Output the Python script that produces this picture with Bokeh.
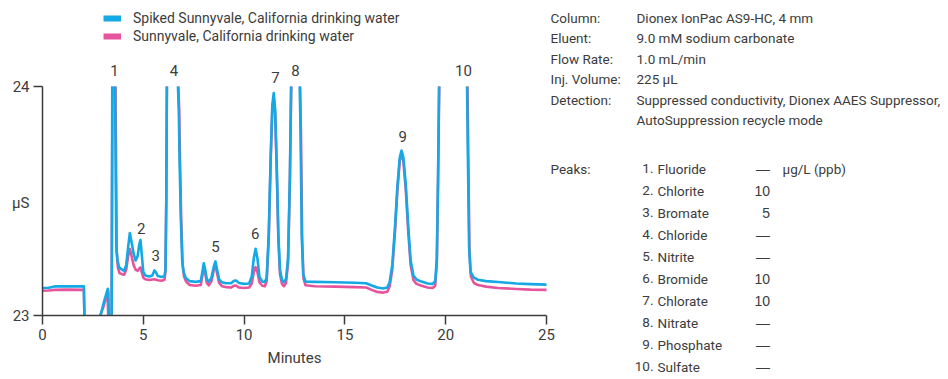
from bokeh.plotting import figure
from bokeh.models import Range1d, FixedTicker, Label, Legend, LegendItem
from bokeh.embed import file_html
from bokeh.resources import INLINE

OFF = float("nan")   # detector response outside the 23-24 µS display scale

# ---- chromatogram traces: retention time (min) and conductivity (µS) ----
spiked_t = [0.00, 0.30, 0.60, 1.20, 2.05, 2.08, 2.50, 2.88, 3.05, 3.24, 3.27, 3.29,
            3.36, 3.43, 3.46, 3.53, 3.60, 3.66, 3.72, 3.80, 3.95, 4.05, 4.15, 4.25,
            4.33, 4.42, 4.52, 4.62, 4.72, 4.80, 4.86, 4.92, 5.00, 5.10, 5.30, 5.45,
            5.55, 5.62, 5.72, 5.90, 6.05, 6.10, 6.14, 6.17, 6.45, 6.72, 6.76, 6.80,
            6.86, 6.93, 7.00, 7.10, 7.30, 7.60, 7.85, 7.93, 8.00, 8.07, 8.15, 8.25,
            8.38, 8.50, 8.58, 8.66, 8.76, 8.90, 9.10, 9.35, 9.50, 9.60, 9.75, 10.00,
            10.25, 10.38, 10.48, 10.57, 10.66, 10.76, 10.90, 11.03, 11.12, 11.22, 11.32, 11.40,
            11.47, 11.54, 11.62, 11.70, 11.78, 11.88, 11.97, 12.08, 12.18, 12.27, 12.33, 12.55,
            12.76, 12.80, 12.86, 12.93, 13.05, 13.50, 14.50, 15.50, 16.05, 16.30, 16.60, 16.90,
            17.10, 17.22, 17.35, 17.48, 17.60, 17.72, 17.81, 17.90, 18.02, 18.14, 18.26, 18.40,
            18.55, 18.80, 19.10, 19.35, 19.48, 19.56, 19.62, 19.67, 20.40, 21.06, 21.10, 21.16,
            21.23, 21.40, 21.60, 22.00, 22.60, 23.50, 24.20, 25.00]
spiked_us = [23.120, 23.121, 23.127, 23.128, 23.127, 23.000, OFF, 23.000, 23.060, 23.117, 23.100, 23.000,
             OFF, 23.000, 24.000, OFF, 24.000, 23.300, 23.240, 23.210, 23.200, 23.195, 23.220, 23.300,
             23.360, 23.320, 23.270, 23.240, 23.260, 23.310, 23.330, 23.270, 23.190, 23.175, 23.170, 23.175,
             23.197, 23.190, 23.172, 23.168, 23.172, 23.200, 23.500, 24.000, OFF, 24.000, 23.900, 23.680,
             23.430, 23.240, 23.190, 23.165, 23.150, 23.147, 23.150, 23.190, 23.228, 23.200, 23.158, 23.148,
             23.165, 23.215, 23.236, 23.200, 23.158, 23.145, 23.141, 23.141, 23.152, 23.153, 23.142, 23.138,
             23.140, 23.170, 23.250, 23.291, 23.250, 23.170, 23.148, 23.146, 23.165, 23.350, 23.700, 23.920,
             23.971, 23.900, 23.650, 23.350, 23.200, 23.155, 23.146, 23.160, 23.250, 23.600, 24.000, OFF,
             24.000, 23.800, 23.350, 23.180, 23.148, 23.147, 23.145, 23.143, 23.141, 23.132, 23.122, 23.118,
             23.122, 23.145, 23.220, 23.380, 23.560, 23.690, 23.720, 23.690, 23.570, 23.390, 23.240, 23.175,
             23.157, 23.148, 23.140, 23.138, 23.150, 23.250, 23.600, 24.000, OFF, 24.000, 23.700, 23.300,
             23.190, 23.165, 23.156, 23.150, 23.146, 23.140, 23.137, 23.135]

sample_t = [0.00, 0.30, 0.60, 1.20, 2.05, 2.08, 2.50, 2.86, 3.03, 3.19, 3.23, 3.26,
            3.35, 3.43, 3.47, 3.55, 3.62, 3.68, 3.74, 3.82, 3.95, 4.05, 4.15, 4.25,
            4.33, 4.42, 4.52, 4.62, 4.72, 4.80, 4.86, 4.92, 5.00, 5.10, 5.30, 5.55,
            5.72, 5.90, 6.05, 6.10, 6.14, 6.17, 6.45, 6.74, 6.78, 6.82, 6.88, 6.95,
            7.02, 7.12, 7.30, 7.60, 7.85, 7.93, 8.00, 8.07, 8.15, 8.25, 8.38, 8.50,
            8.58, 8.66, 8.76, 8.90, 9.10, 9.35, 9.50, 9.60, 9.75, 10.00, 10.25, 10.38,
            10.48, 10.57, 10.66, 10.76, 10.90, 11.03, 11.12, 11.22, 11.32, 11.40, 11.47, 11.54,
            11.62, 11.70, 11.78, 11.88, 11.97, 12.08, 12.18, 12.27, 12.34, 12.56, 12.78, 12.82,
            12.88, 12.95, 13.05, 13.50, 14.50, 15.50, 16.05, 16.30, 16.60, 16.90, 17.10, 17.22,
            17.35, 17.48, 17.60, 17.72, 17.81, 17.90, 18.02, 18.14, 18.26, 18.40, 18.55, 18.80,
            19.10, 19.35, 19.48, 19.56, 19.62, 19.68, 20.40, 21.08, 21.12, 21.18, 21.25, 21.40,
            21.60, 22.00, 22.60, 23.50, 24.20, 25.00]
sample_us = [23.108, 23.109, 23.112, 23.113, 23.112, 23.000, OFF, 23.000, 23.040, 23.095, 23.080, 23.000,
             OFF, 23.000, 24.000, OFF, 24.000, 23.280, 23.210, 23.185, 23.180, 23.178, 23.200, 23.260,
             23.290, 23.260, 23.220, 23.200, 23.195, 23.205, 23.210, 23.190, 23.165, 23.158, 23.155, 23.158,
             23.154, 23.152, 23.156, 23.190, 23.500, 24.000, OFF, 24.000, 23.900, 23.680, 23.420, 23.220,
             23.170, 23.148, 23.133, 23.130, 23.133, 23.175, 23.212, 23.185, 23.142, 23.132, 23.150, 23.200,
             23.218, 23.185, 23.142, 23.128, 23.124, 23.122, 23.130, 23.131, 23.122, 23.120, 23.122, 23.140,
             23.190, 23.211, 23.190, 23.145, 23.130, 23.128, 23.150, 23.330, 23.680, 23.900, 23.950, 23.880,
             23.630, 23.330, 23.180, 23.138, 23.128, 23.142, 23.230, 23.580, 24.000, OFF, 24.000, 23.800,
             23.330, 23.160, 23.132, 23.128, 23.126, 23.124, 23.122, 23.113, 23.103, 23.100, 23.104, 23.128,
             23.200, 23.360, 23.540, 23.675, 23.705, 23.675, 23.550, 23.370, 23.220, 23.155, 23.138, 23.130,
             23.122, 23.120, 23.130, 23.230, 23.580, 24.000, OFF, 24.000, 23.700, 23.280, 23.170, 23.142,
             23.133, 23.126, 23.120, 23.116, 23.113, 23.112]

# ---- peak numbering above the trace ----
peak_numbers = ["1", "2", "3", "4", "5", "6", "7", "8", "9", "10"]
peak_label_t = [3.57, 4.90, 5.62, 6.52, 8.58, 10.55, 11.56, 12.55, 17.87, 20.88]
peak_label_us = [24.07, 23.38, 23.26, 24.07, 23.30, 23.36, 24.04, 24.07, 23.78, 24.07]

# ---- method conditions and peak table ----
condition_names = ["Column:", "Eluent:", "Flow Rate:", "Inj. Volume:", "Detection:", ""]
condition_values = ["Dionex IonPac AS9-HC, 4 mm", "9.0 mM sodium carbonate", "1.0 mL/min",
                    "225 µL", "Suppressed conductivity, Dionex AAES Suppressor,",
                    "AutoSuppression recycle mode"]
analytes = ["Fluoride", "Chlorite", "Bromate", "Chloride", "Nitrite",
            "Bromide", "Chlorate", "Nitrate", "Phosphate", "Sulfate"]
amounts = ["—", "10", "5", "—", "—", "10", "10", "—", "—", "—"]
amount_unit = "µg/L (ppb)"

x_ticks = [0, 5, 10, 15, 20, 25]
y_ticks = [23, 24]
x_title = "Minutes"
y_title = "µS"

series_names = ["Spiked Sunnyvale, California drinking water",
                "Sunnyvale, California drinking water"]

BLUE = "#14A8E4"
PINK = "#E6559B"
TXT = "#3C3C3C"
AX = "#3C3C3C"
FONT = "Roboto"
NUM_FONT = "Liberation Sans"    # full-width em dashes in the amount column

W, H = 948, 379
X0_PX, Y0_PX = 42, 315          # canvas position of the axes origin (0 min, 23 µS)
AXIS_W, AXIS_H = 504, 229       # pixel length of the 0-25 min and 23-24 µS spans

# The frame fills the whole canvas so the legend, peak numbers and method table
# can sit around the chromatogram; the axes are pinned to the origin and bounded.
px_per_min = AXIS_W / (x_ticks[-1] - x_ticks[0])
px_per_us = AXIS_H / (y_ticks[-1] - y_ticks[0])
x_range = Range1d(x_ticks[0] - X0_PX / px_per_min, x_ticks[0] + (W - X0_PX) / px_per_min)
y_range = Range1d(y_ticks[0] - (H - Y0_PX) / px_per_us, y_ticks[0] + Y0_PX / px_per_us)

p = figure(width=W, height=H, x_range=x_range, y_range=y_range,
           output_backend="svg", toolbar_location=None,
           min_border_left=0, min_border_right=0, min_border_top=0, min_border_bottom=0)
p.xgrid.visible = False
p.ygrid.visible = False
p.outline_line_color = None
p.background_fill_color = "white"
p.border_fill_color = "white"

for ax in (p.xaxis[0], p.yaxis[0]):
    ax.axis_line_color = AX
    ax.axis_line_width = 1.5
    ax.major_tick_line_color = AX
    ax.major_tick_line_width = 1.5
    ax.major_tick_in = 0
    ax.major_tick_out = 9
    ax.minor_tick_line_color = None
    ax.major_label_text_font = FONT
    ax.major_label_text_font_size = "15px"
    ax.major_label_text_color = TXT
    ax.major_label_standoff = 4

p.xaxis.ticker = FixedTicker(ticks=x_ticks)
p.xaxis.bounds = (x_ticks[0], x_ticks[-1])
p.xaxis.fixed_location = y_ticks[0]
p.yaxis.ticker = FixedTicker(ticks=y_ticks)
p.yaxis.bounds = (y_ticks[0], y_ticks[-1])
p.yaxis.fixed_location = x_ticks[0]

# traces: unspiked sample below, spiked sample on top
p.line(sample_t, sample_us, line_width=2.6, color=PINK, line_join="round")
p.line(spiked_t, spiked_us, line_width=2.6, color=BLUE, line_join="round")

# legend swatches (thick bars, no visible data of their own)
sw_blue = p.line(x=[OFF], y=[OFF], line_width=6, color=BLUE)
sw_pink = p.line(x=[OFF], y=[OFF], line_width=6, color=PINK)
legend = Legend(items=[LegendItem(label=series_names[0], renderers=[sw_blue], index=0),
                       LegendItem(label=series_names[1], renderers=[sw_pink], index=0)],
                location=(103, H - 45), orientation="vertical",
                border_line_color=None, background_fill_alpha=0,
                padding=0, margin=0, spacing=0,
                glyph_width=18, glyph_height=18, label_height=18, label_standoff=12,
                label_text_font=FONT, label_text_font_size="14px", label_text_color=TXT)
p.add_layout(legend)


def screen_label(px, py, text, align="left", size="13.5px", font=FONT):
    p.add_layout(Label(x=px, y=H - py, x_units="screen", y_units="screen",
                       text=text, text_align=align, text_baseline="middle",
                       text_font=font, text_font_size=size, text_color=TXT))


# axis titles
screen_label(X0_PX + AXIS_W / 2, 357, x_title, align="center", size="15px")
screen_label(29, 202, y_title, align="right", size="15px")

# peak numbers
for num, t, us in zip(peak_numbers, peak_label_t, peak_label_us):
    p.add_layout(Label(x=t, y=us, text=num, text_align="center", text_baseline="middle",
                       text_font=FONT, text_font_size="15px", text_color=TXT))

# conditions block
row_y = 17
for name, val in zip(condition_names, condition_values):
    if name:
        screen_label(550, row_y, name)
    screen_label(636, row_y, val)
    row_y += 20.5

# peak table
screen_label(550, 168, "Peaks:")
for i, (an, amt) in enumerate(zip(analytes, amounts)):
    y = 168 + 22 * i
    screen_label(653, y, f"{i + 1}.", align="right")
    screen_label(657, y, an)
    screen_label(769.5, y, amt, align="right", size="14px", font=NUM_FONT)
screen_label(782, 168, amount_unit)

open("out.html", "w").write(file_html(p, INLINE))
